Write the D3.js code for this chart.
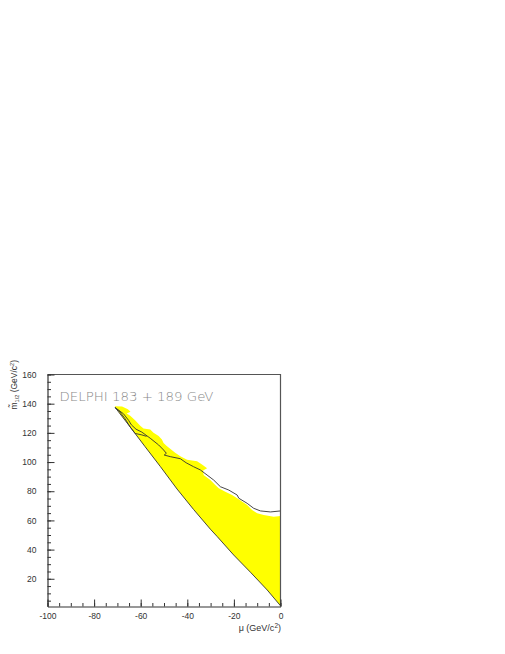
<!DOCTYPE html>
<html>
<head>
<meta charset="utf-8">
<script src="https://cdn.jsdelivr.net/npm/d3@7"></script>
<style>
  body { margin: 0; background: #fff; }
  svg { display: block; }
  text { font-family: "Liberation Sans", Arial, Helvetica, sans-serif; }
</style>
</head>
<body>
<div id="chart"></div>
<script>
const WIDTH = 505;
const HEIGHT = 654;

// axis ticks
const xMajorTicks = [-100, -80, -60, -40, -20, 0];
const yMajorTicks = [20, 40, 60, 80, 100, 120, 140, 160];
const xMinorStep = 5;
const yMinorStep = 5;

// excluded region: upper (jagged) edge of the yellow area, [mu, m1/2]
const yellowTop = [
  [-71.0, 138.2], [-68.0, 138.0], [-65.5, 136.2], [-64.4, 134.4], [-66.0, 133.2],
  [-64.5, 131.8], [-62.4, 128.6], [-60.2, 124.8], [-58.8, 123.0], [-55.9, 122.3],
  [-54.5, 120.0], [-52.3, 117.8], [-50.9, 115.5], [-50.2, 113.0], [-48.7, 110.8],
  [-45.2, 106.3], [-43.0, 104.0], [-40.1, 101.6], [-35.8, 100.6], [-33.7, 98.3],
  [-31.5, 95.8], [-33.2, 94.2], [-33.0, 91.1], [-30.1, 87.7], [-28.0, 84.3],
  [-26.5, 82.0], [-23.7, 79.7], [-20.8, 77.4], [-18.6, 75.2], [-14.3, 70.6],
  [-12.2, 67.1], [-10.0, 64.9], [-7.2, 63.7], [-2.9, 62.5], [0.0, 63.0]
];

// lower edge (kinematic limit), from the tip down to mu = 0
const lowerEdge = [
  [-71.0, 137.5], [-64.5, 124.0], [-58.1, 110.5], [-51.6, 97.0], [-44.4, 81.5],
  [-37.3, 67.5], [-30.1, 54.0], [-27.2, 49.0], [-20.1, 36.3], [-12.9, 24.5],
  [-5.7, 12.3], [0.0, 1.5]
];

// black contour lines
const contourUpper = [
  [-71.0, 137.3], [-67.4, 133.1], [-65.2, 128.6], [-64.0, 125.5], [-62.0, 122.5],
  [-59.5, 120.5], [-55.9, 116.3], [-52.3, 111.7], [-50.2, 108.3], [-49.0, 106.0],
  [-49.9, 104.8], [-47.3, 103.7], [-43.0, 102.3], [-40.5, 99.5], [-37.3, 96.8],
  [-34.4, 94.6], [-31.5, 91.1], [-28.7, 87.7], [-25.8, 83.1], [-22.2, 80.8],
  [-18.6, 77.4], [-17.9, 75.2], [-14.3, 71.7], [-11.5, 68.3], [-8.6, 66.5],
  [-4.3, 65.8], [0.0, 66.5]
];
const contourInner = [
  [-71.0, 137.3], [-69.5, 135.5], [-66.7, 129.7], [-64.5, 124.0], [-62.4, 119.6],
  [-59.5, 118.6], [-57.5, 117.6]
];

const svg = d3.select("#chart")
  .append("svg")
  .attr("width", WIDTH)
  .attr("height", HEIGHT);

const x = d3.scaleLinear().domain([-100, 0]).range([47.5, 280.5]);
const y = d3.scaleLinear().domain([1, 160]).range([606.5, 374.5]);

const line = d3.line().x(d => x(d[0])).y(d => y(d[1]));

// yellow region: top edge, right side down, lower edge back to the tip
const region = yellowTop.concat(lowerEdge.slice().reverse());
svg.append("path")
  .attr("d", line(region) + "Z")
  .attr("fill", "#ffff00")
  .attr("stroke", "none");

svg.append("path")
  .attr("d", line(lowerEdge))
  .attr("fill", "none")
  .attr("stroke", "#333")
  .attr("stroke-width", 0.9);

[contourUpper, contourInner].forEach(c => {
  svg.append("path")
    .attr("d", line(c))
    .attr("fill", "none")
    .attr("stroke", "#333")
    .attr("stroke-width", 0.9);
});

// frame (top and right)
svg.append("path")
  .attr("d", `M${x(-100)},${y(160)}H${x(0)}V${y(1)}`)
  .attr("fill", "none")
  .attr("stroke", "#555")
  .attr("stroke-width", 1.2);

// minor ticks
const xMinor = d3.range(-100, 0.1, xMinorStep);
const yMinor = d3.range(5, 160.1, yMinorStep);

svg.append("g")
  .attr("transform", `translate(0,${y(1)})`)
  .call(d3.axisBottom(x).tickValues(xMinor).tickSize(-3.5).tickSizeOuter(0).tickFormat(""))
  .call(g => g.select(".domain").remove())
  .selectAll("line").attr("stroke", "#333");

svg.append("g")
  .attr("transform", `translate(${x(-100)},0)`)
  .call(d3.axisLeft(y).tickValues(yMinor).tickSize(-3.5).tickSizeOuter(0).tickFormat(""))
  .call(g => g.select(".domain").remove())
  .selectAll("line").attr("stroke", "#333");

// major ticks + labels (plain hyphen for negatives, as in the original)
const xAxis = svg.append("g")
  .attr("transform", `translate(0,${y(1)})`)
  .call(d3.axisBottom(x).tickValues(xMajorTicks).tickSize(-7).tickSizeOuter(0).tickPadding(6)
    .tickFormat(d => String(d)));
const yAxis = svg.append("g")
  .attr("transform", `translate(${x(-100)},0)`)
  .call(d3.axisLeft(y).tickValues(yMajorTicks).tickSize(-7).tickSizeOuter(0).tickPadding(11)
    .tickFormat(d => String(d)));

[xAxis, yAxis].forEach(g => {
  g.select(".domain").attr("stroke", "#333").attr("stroke-width", 1.2);
  g.selectAll("line").attr("stroke", "#333");
  g.selectAll("text")
    .attr("fill", "#333")
    .style("font-size", "8.5px")
    .style("font-family", "'Liberation Sans', Arial, sans-serif");
});

// axis titles
const xTitle = svg.append("text")
  .attr("x", 281)
  .attr("y", 631)
  .attr("text-anchor", "end")
  .attr("fill", "#333")
  .style("font-size", "9px");
xTitle.append("tspan").text("\u03bc (GeV/c");
xTitle.append("tspan").attr("dy", -3.5).style("font-size", "6.5px").text("2");
xTitle.append("tspan").attr("dy", 3.5).text(")");

const yTitle = svg.append("text")
  .attr("transform", "translate(16.5,360) rotate(-90)")
  .attr("text-anchor", "end")
  .attr("fill", "#333")
  .style("font-size", "8.5px");
yTitle.append("tspan").text("m\u0303");
yTitle.append("tspan").attr("dy", 2).style("font-size", "5.5px").text("1/2");
yTitle.append("tspan").attr("dy", -2).text(" (GeV/c");
yTitle.append("tspan").attr("dy", -3).style("font-size", "5.5px").text("2");
yTitle.append("tspan").attr("dy", 3).text(")");

// experiment label
svg.append("text")
  .attr("x", 59.5)
  .attr("y", 401)
  .attr("fill", "#888")
  .attr("textLength", 154)
  .attr("lengthAdjust", "spacingAndGlyphs")
  .style("font-family", "'DejaVu Sans', sans-serif")
  .style("font-size", "11.5px")
  .style("font-weight", 200)
  .text("DELPHI 183 + 189 GeV");
</script>
</body>
</html>
